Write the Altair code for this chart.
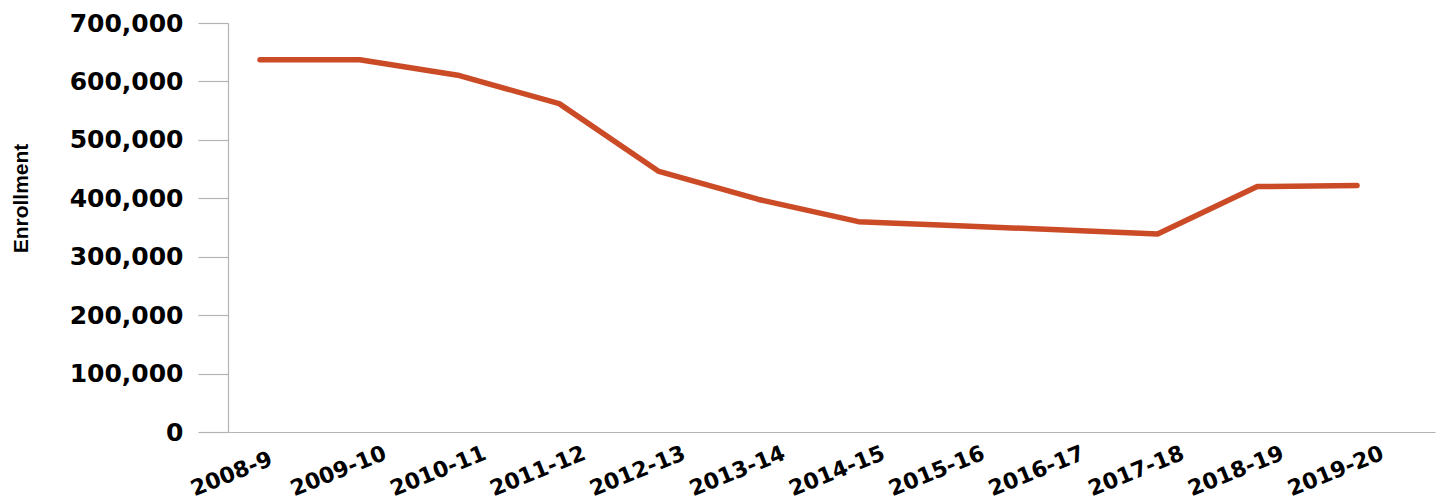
import json
import altair as alt
import pandas as pd

years = ["2008-9", "2009-10", "2010-11", "2011-12", "2012-13", "2013-14",
         "2014-15", "2015-16", "2016-17", "2017-18", "2018-19", "2019-20"]
enrollment = [637000, 637000, 610000, 562000, 446000, 398000,
              360000, 353000, 346000, 339000, 420000, 422000]
y_ticks = [0, 100000, 200000, 300000, 400000, 500000, 600000, 700000]

df = pd.DataFrame({"idx": list(range(len(years))), "year": years,
                   "enrollment": enrollment})

label_expr = json.dumps(years) + "[datum.value]"

chart = alt.Chart(df).mark_line(
    color="#CB4B27", strokeWidth=5.5, strokeCap="round", strokeJoin="round"
).encode(
    x=alt.X("idx:Q",
            scale=alt.Scale(domain=[-0.3209, 11.782], nice=False, zero=False),
            axis=alt.Axis(title=None, values=list(range(len(years))),
                          labelExpr=label_expr, labelAngle=-22,
                          labelAlign="left", labelBaseline="alphabetic",
                          labelPadding=64, labelOffset=-66, grid=False,
                          ticks=False, tickSize=0,
                          domainColor="#b3b3b3", domainWidth=1.2,
                          labelFont="DejaVu Sans", labelFontWeight="bold",
                          labelFontSize=22, labelColor="#000000",
                          labelOverlap=False, labelBound=False, labelFlush=False)),
    y=alt.Y("enrollment:Q",
            scale=alt.Scale(domain=[0, 700000], nice=False, zero=True),
            axis=alt.Axis(title="Enrollment", values=y_ticks, format=",d",
                          grid=False, tickSize=30, tickColor="#b3b3b3",
                          tickWidth=1.2, domainColor="#b3b3b3", domainWidth=1.2,
                          labelPadding=15, labelFont="DejaVu Sans",
                          labelFontWeight="bold", labelFontSize=25,
                          labelColor="#000000",
                          titleFont="Liberation Sans", titleFontWeight="bold",
                          titleFontSize=21, titleColor="#000000",
                          titleAngle=-90, titleX=-201, titleY=175,
                          titleAlign="center", titleBaseline="alphabetic")),
).properties(
    width=1207, height=409,
    background="#ffffff",
    autosize=alt.AutoSizeParams(type="none"),
    padding={"left": 228, "top": 23, "right": 8, "bottom": 72},
).configure_view(stroke=None, strokeWidth=0)

chart.save("out.html", embed_options={"renderer": "svg", "actions": False})
